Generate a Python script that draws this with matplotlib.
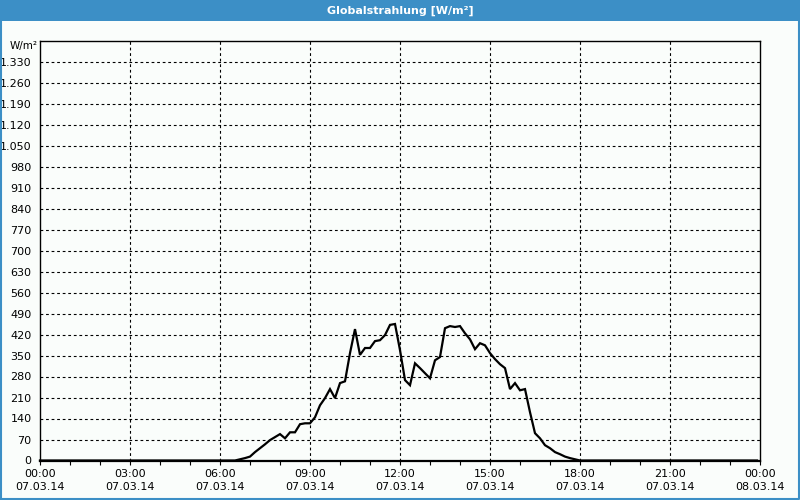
import matplotlib
matplotlib.use("Agg")
import matplotlib.pyplot as plt
from matplotlib.patches import Rectangle
from matplotlib.lines import Line2D

title = "Globalstrahlung [W/m²]"
unit_label = "W/m²"

# measurements every 10 minutes from 06:30 to 18:00 (W/m²); zero otherwise
start_hour = 6.5
step_hours = 10 / 60
values = [0, 4, 8, 13, 28, 41, 54, 68, 78, 88, 74, 94, 94, 121, 124, 124, 144,
          184, 208, 238, 208, 258, 264, 358, 438, 352, 375, 375, 398, 401, 418,
          452, 455, 368, 268, 251, 324, 308, 291, 274, 334, 345, 441, 448, 445,
          448, 424, 404, 371, 391, 384, 358, 338, 321, 308, 238, 258, 234, 238,
          161, 91, 74, 51, 41, 28, 21, 13, 8, 4, 0]

x_ticks = [0, 3, 6, 9, 12, 15, 18, 21, 24]
x_ticklabels = ["00:00\n07.03.14", "03:00\n07.03.14", "06:00\n07.03.14",
                "09:00\n07.03.14", "12:00\n07.03.14", "15:00\n07.03.14",
                "18:00\n07.03.14", "21:00\n07.03.14", "00:00\n08.03.14"]
y_ticks = [0, 70, 140, 210, 280, 350, 420, 490, 560, 630, 700, 770, 840, 910,
           980, 1050, 1120, 1190, 1260, 1330]
y_ticklabels = ["0", "70", "140", "210", "280", "350", "420", "490", "560",
                "630", "700", "770", "840", "910", "980", "1.050", "1.120",
                "1.190", "1.260", "1.330"]

hours = [start_hour + i * step_hours for i in range(len(values))]
full_x = [0.0] + hours + [23.9]
full_y = [0] + values + [0]

BLUE = "#3c8fc6"
BG = "#fafdfb"

fig = plt.figure(figsize=(8, 5), dpi=100, facecolor=BG)
# title bar and border
fig.patches.append(Rectangle((0, 1 - 20.5 / 500), 1, 20.5 / 500, transform=fig.transFigure,
                             facecolor=BLUE, edgecolor="none", zorder=0))
bx = [1 / 800, 1 - 1 / 800, 1 - 1 / 800, 1 / 800, 1 / 800]
by = [1 / 500, 1 / 500, 1 - 1 / 500, 1 - 1 / 500, 1 / 500]
fig.lines.append(Line2D(bx, by, transform=fig.transFigure, color=BLUE,
                        linewidth=1.5, zorder=5))
fig.text(0.5, 1 - 10.5 / 500, title, color="white", fontsize=8, fontweight="bold",
         ha="center", va="center", family="DejaVu Sans")

ax = fig.add_axes([40 / 800, 1 - 460.5 / 500, 720 / 800, 420 / 500])
ax.set_facecolor(BG)
ax.set_xlim(0, 24)
ax.set_ylim(0, 1400)

ax.plot(full_x, full_y, color="black", linewidth=1.6, solid_joinstyle="miter",
        clip_on=False, zorder=3)

dash = (0, (2.5, 2.5))
for yv in y_ticks[1:]:
    ax.axhline(yv, color="black", linewidth=0.8, linestyle=dash, zorder=1)
for xv in x_ticks[1:-1]:
    ax.axvline(xv, color="black", linewidth=0.8, linestyle=dash, zorder=1)

ax.set_xticks(x_ticks)
ax.set_xticklabels(x_ticklabels, fontsize=8, linespacing=1.35)
ax.set_xticks(range(0, 25), minor=True)
ax.tick_params(axis="x", which="both", direction="out", length=3, width=0.8,
               pad=3, colors="black")
ax.set_yticks(y_ticks)
ax.set_yticklabels(y_ticklabels, fontsize=8)
ax.tick_params(axis="y", length=0, pad=6)

for s in ax.spines.values():
    s.set_linewidth(1.0)
    s.set_color("black")
ax.spines["bottom"].set_linewidth(1.6)

fig.text(10 / 800, 1 - 46 / 500, unit_label, fontsize=7.5, ha="left", va="center")

fig.savefig("out.png", dpi=100, facecolor=BG)
